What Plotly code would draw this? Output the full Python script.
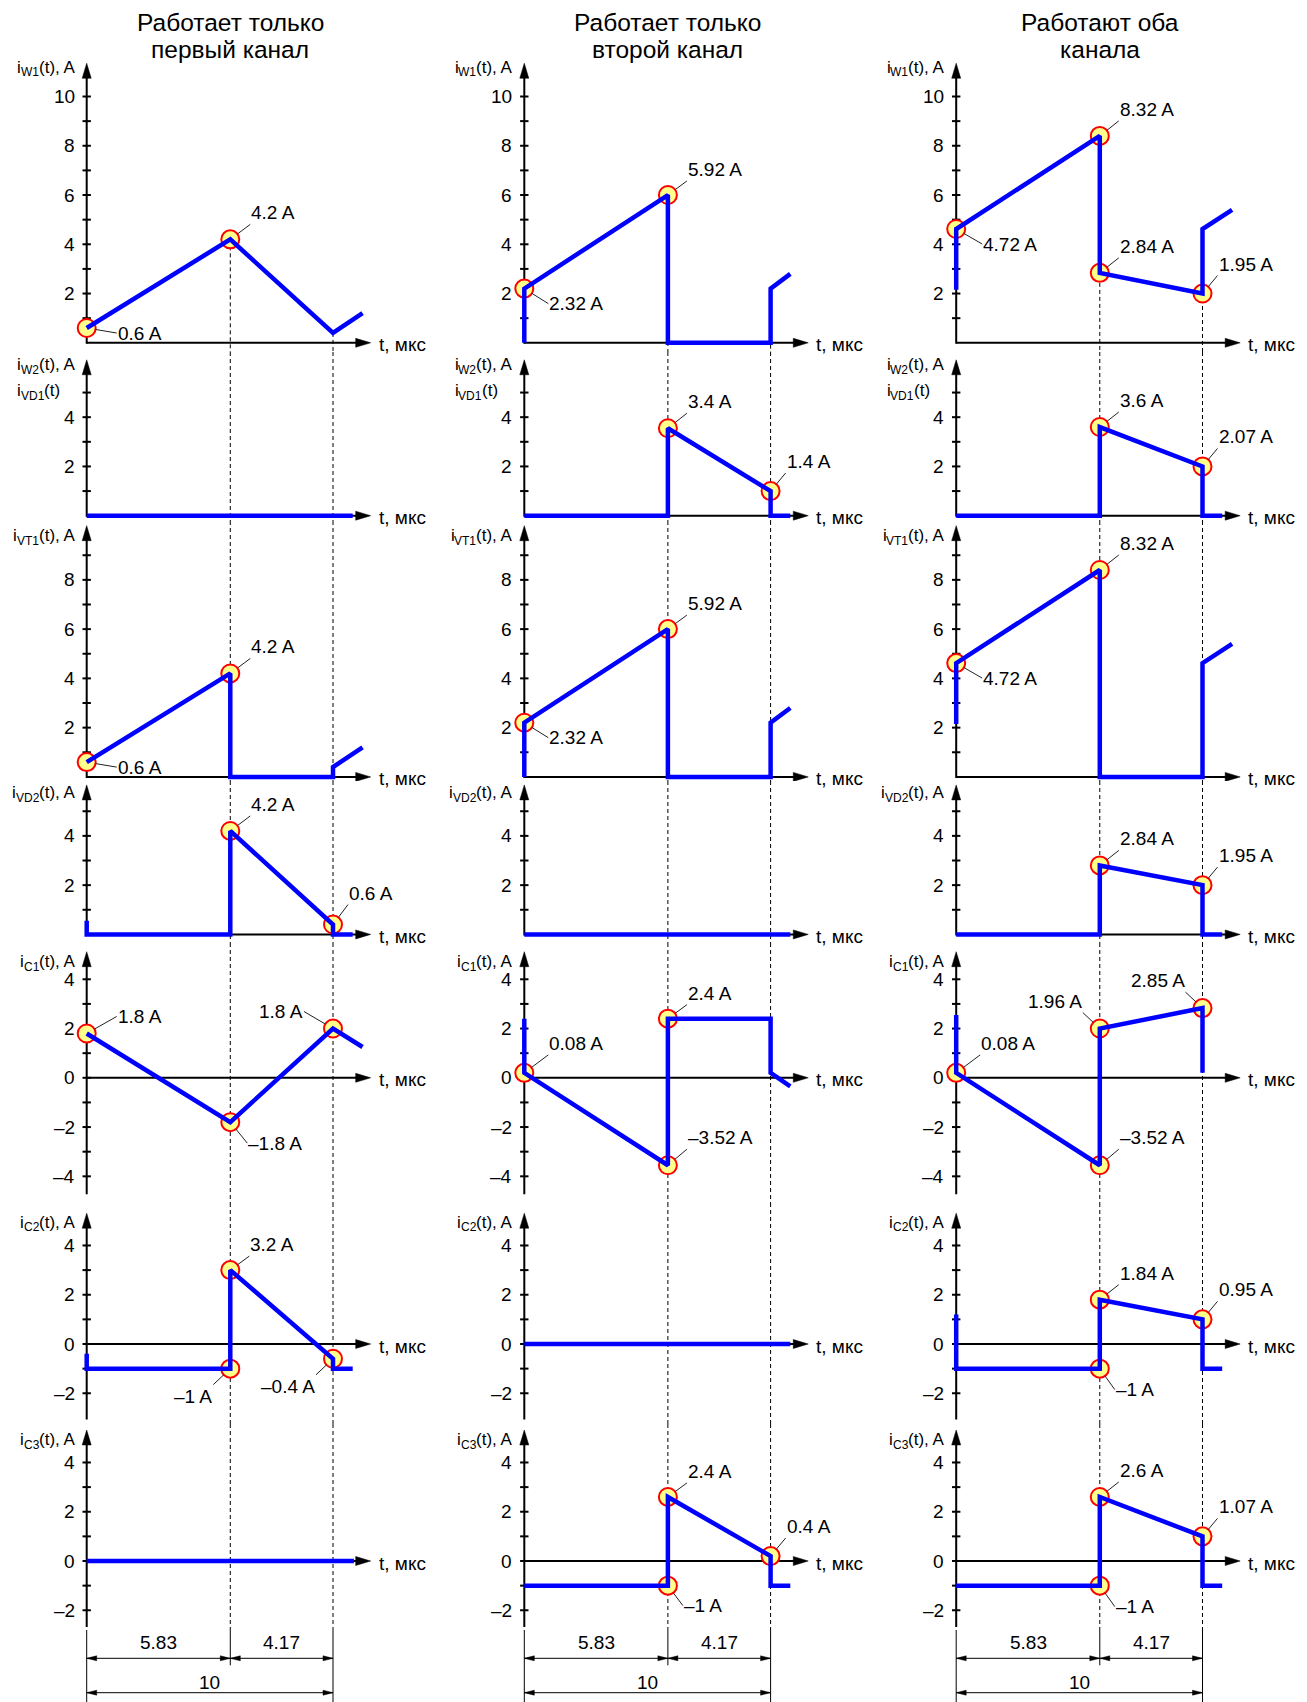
import plotly.graph_objects as go

# ======================= DATA =======================
T_SW = 5.83     # µs, end of the first interval
T_PER = 10.0    # µs, switching period

COLUMN_TITLES = [("Работает только", "первый канал"),
                 ("Работает только", "второй канал"),
                 ("Работают оба", "канала")]

# axis titles as (letter, subscript, rest)
ROW_TITLES = [("i", "W1", "(t), A"), ("i", "W2", "(t), A"), ("i", "VT1", "(t), A"),
              ("i", "VD2", "(t), A"), ("i", "C1", "(t), A"), ("i", "C2", "(t), A"),
              ("i", "C3", "(t), A")]
ROW2_EXTRA_TITLE = ("i", "VD1", "(t)")
TIME_LABEL = "t, мкс"

ROW_MINOR_TICKS = [list(range(1, 11)), list(range(1, 6)), list(range(1, 10)), list(range(1, 6)),
                   list(range(-4, 5)), list(range(-2, 5)), list(range(-2, 5))]
ROW_TICK_LABELS = [[2, 4, 6, 8, 10], [2, 4], [2, 4, 6, 8], [2, 4],
                   [-4, -2, 0, 2, 4], [-2, 0, 2, 4], [-2, 0, 2, 4]]
ROW_AXIS_BOTTOM = [0, 0, 0, 0, -4.69, -3.02, -2.67]
ROW_AXIS_TOP = [11.35, 6.33, 10.2, 6.07, 5.12, 5.31, 5.32]

# ---- column 1: only the first channel works
c1_iw1_t = [0, 5.83, 10, 11.2]
c1_iw1_i = [0.6, 4.2, 0.4, 1.2]
c1_iw1_pts = [(0, 0.6, "0.6 A"), (5.83, 4.2, "4.2 A")]
c1_iw2_t = [0, 10.8]
c1_iw2_i = [0, 0]
c1_iw2_pts = []
c1_ivt1_t = [0, 5.83, 5.83, 10, 10, 11.2]
c1_ivt1_i = [0.6, 4.2, 0, 0, 0.4, 1.2]
c1_ivt1_pts = [(0, 0.6, "0.6 A"), (5.83, 4.2, "4.2 A")]
c1_ivd2_t = [0, 0, 5.83, 5.83, 10, 10, 10.8]
c1_ivd2_i = [0.55, 0, 0, 4.2, 0.4, 0, 0]
c1_ivd2_pts = [(5.83, 4.2, "4.2 A"), (10, 0.4, "0.6 A")]
c1_ic1_t = [0, 5.83, 10, 11.2]
c1_ic1_i = [1.8, -1.8, 2.0, 1.25]
c1_ic1_pts = [(0, 1.8, "1.8 A"), (5.83, -1.8, "–1.8 A"), (10, 2.0, "1.8 A")]
c1_ic2_t = [0, 0, 5.83, 5.83, 10, 10, 10.8]
c1_ic2_i = [-0.4, -1, -1, 3.0, -0.6, -1, -1]
c1_ic2_pts = [(5.83, -1, "–1 A"), (5.83, 3.0, "3.2 A"), (10, -0.6, "–0.4 A")]
c1_ic3_t = [0, 10.85]
c1_ic3_i = [0, 0]
c1_ic3_pts = []

# ---- column 2: only the second channel works
c2_iw1_t = [0, 0, 5.83, 5.83, 10, 10, 10.8]
c2_iw1_i = [0, 2.2, 6.0, 0, 0, 2.2, 2.8]
c2_iw1_pts = [(0, 2.2, "2.32 A"), (5.83, 6.0, "5.92 A")]
c2_iw2_t = [0, 5.83, 5.83, 10, 10, 10.8]
c2_iw2_i = [0, 0, 3.55, 1.0, 0, 0]
c2_iw2_pts = [(5.83, 3.55, "3.4 A"), (10, 1.0, "1.4 A")]
c2_ivt1_t = [0, 0, 5.83, 5.83, 10, 10, 10.8]
c2_ivt1_i = [0, 2.2, 6.0, 0, 0, 2.2, 2.8]
c2_ivt1_pts = [(0, 2.2, "2.32 A"), (5.83, 6.0, "5.92 A")]
c2_ivd2_t = [0, 10.8]
c2_ivd2_i = [0, 0]
c2_ivd2_pts = []
c2_ic1_t = [0, 0, 5.83, 5.83, 10, 10, 10.8]
c2_ic1_i = [2.4, 0.2, -3.55, 2.4, 2.4, 0.2, -0.35]
c2_ic1_pts = [(0, 0.2, "0.08 A"), (5.83, 2.4, "2.4 A"), (5.83, -3.55, "–3.52 A")]
c2_ic2_t = [0, 10.8]
c2_ic2_i = [0, 0]
c2_ic2_pts = []
c2_ic3_t = [0, 5.83, 5.83, 10, 10, 10.8]
c2_ic3_i = [-1, -1, 2.6, 0.2, -1, -1]
c2_ic3_pts = [(5.83, 2.6, "2.4 A"), (10, 0.2, "0.4 A"), (5.83, -1, "–1 A")]

# ---- column 3: both channels work
c3_iw1_t = [0, 0, 5.83, 5.83, 10, 10, 11.2]
c3_iw1_i = [2.15, 4.62, 8.4, 2.84, 2.0, 4.62, 5.4]
c3_iw1_pts = [(0, 4.62, "4.72 A"), (5.83, 8.4, "8.32 A"), (5.83, 2.84, "2.84 A"), (10, 2.0, "1.95 A")]
c3_iw2_t = [0, 5.83, 5.83, 10, 10, 10.8]
c3_iw2_i = [0, 0, 3.6, 2.0, 0, 0]
c3_iw2_pts = [(5.83, 3.6, "3.6 A"), (10, 2.0, "2.07 A")]
c3_ivt1_t = [0, 0, 5.83, 5.83, 10, 10, 11.2]
c3_ivt1_i = [2.15, 4.62, 8.4, 0, 0, 4.62, 5.4]
c3_ivt1_pts = [(0, 4.62, "4.72 A"), (5.83, 8.4, "8.32 A")]
c3_ivd2_t = [0, 5.83, 5.83, 10, 10, 10.8]
c3_ivd2_i = [0, 0, 2.8, 2.0, 0, 0]
c3_ivd2_pts = [(5.83, 2.8, "2.84 A"), (10, 2.0, "1.95 A")]
c3_ic1_t = [0, 0, 5.83, 5.83, 10, 10]
c3_ic1_i = [2.55, 0.2, -3.55, 2.0, 2.83, 0.2]
c3_ic1_pts = [(0, 0.2, "0.08 A"), (5.83, 2.0, "1.96 A"), (10, 2.83, "2.85 A"), (5.83, -3.55, "–3.52 A")]
c3_ic2_t = [0, 0, 5.83, 5.83, 10, 10, 10.8]
c3_ic2_i = [1.2, -1, -1, 1.8, 1.0, -1, -1]
c3_ic2_pts = [(5.83, 1.8, "1.84 A"), (10, 1.0, "0.95 A"), (5.83, -1, "–1 A")]
c3_ic3_t = [0, 5.83, 5.83, 10, 10, 10.8]
c3_ic3_i = [-1, -1, 2.6, 1.0, -1, -1]
c3_ic3_pts = [(5.83, 2.6, "2.6 A"), (10, 1.0, "1.07 A"), (5.83, -1, "–1 A")]

# ======================= LAYOUT / STYLE =======================
W, H = 1307, 1702
OFF = 8                                     # page body margin of the html output
PX = 24.63                                  # pixels per unit on both axes
COL_AXIS_X = [86.7 - OFF, 524.3 - OFF, 956.2 - OFF]
ROW_ZERO_Y = [v - OFF for v in [342.8, 515.7, 776.9, 934.4, 1077.8, 1344.0, 1561.0]]
ROW_EDGES = [max(0, v - OFF) for v in [0, 352, 521, 781, 943, 1203, 1424, 1627, 1702]]
LEFT_PAD, RIGHT_PAD = 6, 300
T_ARROW = 11.53
T_LABEL_SHIFT = 6
AH_LEN, AH_HALF = 15, 4.5                   # axis arrow-head, px
DH_LEN, DH_HALF = 10, 2.5                   # dimension arrow-head, px
TITLE_DY = [4, 5, 10, 8, 10, 9, 10]
DIM_LINE1, DIM_TEXT1, DIM_LINE2, DIM_TEXT2 = 43.7, 59.3, 9.3, 19.3
DIM_EXT_TOP = 75
TITLE_Y = [22.5 - OFF, 49.5 - OFF]

FONT = "Liberation Sans, Arial, sans-serif"
F_SMALL = dict(family=FONT, size=19, color="black")
F_AX = dict(family=FONT, size=17, color="black")
F_SUB = dict(family=FONT, size=12, color="black")
F_TITLE = dict(family=FONT, size=24.5, color="black")
BLUE = "#0000FF"
MARK_FILL = "#FFFF8C"
MARK_EDGE = "#FF0000"

# Arial / Liberation Sans advance widths (per 1000 em) for composing axis titles
ADV = {"i": 222, "W": 944, "V": 667, "D": 722, "C": 722, "T": 611, "1": 556, "2": 556,
       "3": 556, "(": 333, "t": 278, ")": 333, ",": 278, " ": 278, "A": 667}

# label placement: (dx px, dy px, kind)
c1_place = [[(30, 5, "rm"), (20, -15, "ur")], [], [(30, 5, "rm"), (20, -15, "ur")],
            [(20, -15, "ur"), (15, -20, "ur")],
            [(30, -17, "rm"), (17, 21, "rm"), (-29, -17, "lm")],
            [(-17, 16, "ll"), (19, -14, "ur"), (-17, 16, "ll")], []]
c2_place = [[(24, 15, "rm"), (19, -14, "ur")], [(19, -15, "ur"), (15, -18, "ur")],
            [(24, 15, "rm"), (19, -14, "ur")], [],
            [(24, -18, "ur"), (19, -14, "ur"), (19, -16, "ur")], [],
            [(19, -14, "ur"), (15, -18, "ur"), (15, 20, "rm")]]
c3_place = [[(26, 15, "rm"), (19, -15, "ur"), (19, -15, "ur"), (15, -18, "ur")],
            [(19, -15, "ur"), (15, -18, "ur")],
            [(26, 15, "rm"), (19, -15, "ur")],
            [(19, -15, "ur"), (15, -18, "ur")],
            [(24, -18, "ur"), (-17, -16, "ul"), (-17, -16, "ul"), (19, -16, "ur")],
            [(19, -15, "ur"), (15, -18, "ur"), (15, 21, "rm")],
            [(19, -15, "ur"), (15, -18, "ur"), (15, 21, "rm")]]

COLUMNS = [
    [(c1_iw1_t, c1_iw1_i, c1_iw1_pts), (c1_iw2_t, c1_iw2_i, c1_iw2_pts),
     (c1_ivt1_t, c1_ivt1_i, c1_ivt1_pts), (c1_ivd2_t, c1_ivd2_i, c1_ivd2_pts),
     (c1_ic1_t, c1_ic1_i, c1_ic1_pts), (c1_ic2_t, c1_ic2_i, c1_ic2_pts),
     (c1_ic3_t, c1_ic3_i, c1_ic3_pts)],
    [(c2_iw1_t, c2_iw1_i, c2_iw1_pts), (c2_iw2_t, c2_iw2_i, c2_iw2_pts),
     (c2_ivt1_t, c2_ivt1_i, c2_ivt1_pts), (c2_ivd2_t, c2_ivd2_i, c2_ivd2_pts),
     (c2_ic1_t, c2_ic1_i, c2_ic1_pts), (c2_ic2_t, c2_ic2_i, c2_ic2_pts),
     (c2_ic3_t, c2_ic3_i, c2_ic3_pts)],
    [(c3_iw1_t, c3_iw1_i, c3_iw1_pts), (c3_iw2_t, c3_iw2_i, c3_iw2_pts),
     (c3_ivt1_t, c3_ivt1_i, c3_ivt1_pts), (c3_ivd2_t, c3_ivd2_i, c3_ivd2_pts),
     (c3_ic1_t, c3_ic1_i, c3_ic1_pts), (c3_ic2_t, c3_ic2_i, c3_ic2_pts),
     (c3_ic3_t, c3_ic3_i, c3_ic3_pts)],
]
PLACES = [c1_place, c2_place, c3_place]

ANCHORS = {"ur": ("left", "bottom"), "rm": ("left", "middle"), "ul": ("right", "bottom"),
           "lm": ("right", "middle"), "ll": ("right", "top")}


def fmt(v):
    return f"{v:g}".replace("-", "–")


def text_w(s, size):
    return sum(ADV.get(ch, 556) for ch in s) * size / 1000.0


def axis_title(parts, xa, ya, yval, left_px, yshift):
    """Compose letter + subscript + rest as three plain-text annotations."""
    main, sub, rest = parts
    out = []
    x = left_px
    for txt, font, dy in [(main, F_AX, 0), (sub, F_SUB, -5), (rest, F_AX, 0)]:
        out.append(dict(x=0, y=yval, xref=xa, yref=ya, text=txt, showarrow=False,
                        xanchor="left", yanchor="middle", xshift=x, yshift=yshift + dy,
                        font=font, borderpad=0, borderwidth=0))
        x += text_w(txt, font["size"])
    return out


def title_width(parts):
    main, sub, rest = parts
    return text_w(main, F_AX["size"]) + text_w(sub, F_SUB["size"]) + text_w(rest, F_AX["size"])


fig = go.Figure()
layout = dict(width=W, height=H, margin=dict(l=0, r=0, t=0, b=0),
              paper_bgcolor="white", plot_bgcolor="rgba(0,0,0,0)", showlegend=False)
ann = []

for c in range(3):
    X0 = COL_AXIS_X[c]
    xdom = [(X0 - LEFT_PAD) / W, (X0 + RIGHT_PAD) / W]
    xrng = [-LEFT_PAD / PX, RIGHT_PAD / PX]
    for r in range(8):
        n = c * 8 + r + 1
        sfx = "" if n == 1 else str(n)
        xa, ya = "x" + sfx, "y" + sfx
        top, bot = ROW_EDGES[r], ROW_EDGES[r + 1]
        if r < 7:
            z = ROW_ZERO_Y[r]
            yrng = [-(bot - z) / PX, (z - top) / PX]
        else:
            yrng = [0, bot - top]
        layout["xaxis" + sfx] = dict(domain=xdom, range=xrng, visible=False,
                                     fixedrange=True, anchor=ya)
        layout["yaxis" + sfx] = dict(domain=[1 - bot / H, 1 - top / H], range=yrng,
                                     visible=False, fixedrange=True, anchor=xa)
        common = dict(xaxis=xa, yaxis=ya, hoverinfo="skip", showlegend=False)

        if r == 7:
            # ----- dimension block -----
            fig.add_trace(go.Scatter(x=[0, 0, None, T_SW, T_SW, None, T_PER, T_PER],
                                     y=[DIM_EXT_TOP - 3, 0, None, DIM_EXT_TOP, DIM_LINE1 - 7,
                                        None, DIM_EXT_TOP, 0],
                                     mode="lines", line=dict(color="black", width=1), **common))
            fig.add_trace(go.Scatter(x=[0, T_PER, None, 0, T_PER],
                                     y=[DIM_LINE1, DIM_LINE1, None, DIM_LINE2, DIM_LINE2],
                                     mode="lines", line=dict(color="black", width=1), **common))
            hx, hy = [], []
            for tip, yy, d in [(0, DIM_LINE1, 1), (T_SW, DIM_LINE1, -1), (T_SW, DIM_LINE1, 1),
                               (T_PER, DIM_LINE1, -1), (0, DIM_LINE2, 1), (T_PER, DIM_LINE2, -1)]:
                b = tip + d * DH_LEN / PX
                hx += [tip, b, b, tip, None]
                hy += [yy, yy + DH_HALF, yy - DH_HALF, yy, None]
            fig.add_trace(go.Scatter(x=hx, y=hy, mode="lines", fill="toself",
                                     fillcolor="black", line=dict(color="black", width=0.5),
                                     **common))
            for xx, yy, txt in [(T_SW / 2, DIM_TEXT1, f"{T_SW:.2f}"),
                                ((T_SW + T_PER) / 2, DIM_TEXT1, f"{T_PER - T_SW:.2f}"),
                                (T_PER / 2, DIM_TEXT2, f"{T_PER:g}")]:
                ann.append(dict(x=xx, y=yy, xref=xa, yref=ya, text=txt, showarrow=False,
                                xanchor="center", yanchor="middle", font=F_SMALL))
            continue

        ts, vs, pts = COLUMNS[c][r]
        ybot, ytop = ROW_AXIS_BOTTOM[r], ROW_AXIS_TOP[r]

        # dashed guide lines
        for tx in (T_SW, T_PER):
            if r == 0:
                ys = max(v for t, v in zip(ts, vs) if abs(t - tx) < 1e-9)
            else:
                ys = yrng[1]
            fig.add_trace(go.Scatter(x=[tx, tx], y=[ys, yrng[0]], mode="lines",
                                     line=dict(color="black", width=1, dash="4px,3px"), **common))

        # axes
        fig.add_trace(go.Scatter(x=[0, 0, None, 0, T_ARROW - 0.8 * AH_LEN / PX],
                                 y=[ybot - 1 / PX, ytop - 0.8 * AH_LEN / PX, None, 0, 0],
                                 mode="lines", line=dict(color="black", width=2), **common))
        fig.add_trace(go.Scatter(
            x=[0, -AH_HALF / PX, AH_HALF / PX, 0, None,
               T_ARROW, T_ARROW - AH_LEN / PX, T_ARROW - AH_LEN / PX, T_ARROW],
            y=[ytop, ytop - AH_LEN / PX, ytop - AH_LEN / PX, ytop, None,
               0, AH_HALF / PX, -AH_HALF / PX, 0],
            mode="lines", fill="toself", fillcolor="black",
            line=dict(color="black", width=0.5), **common))
        fig.add_trace(go.Scatter(x=[0] * len(ROW_MINOR_TICKS[r]), y=ROW_MINOR_TICKS[r],
                                 mode="markers", cliponaxis=False,
                                 marker=dict(symbol="line-ew", size=6,
                                             line=dict(color="black", width=2)), **common))
        for v in ROW_TICK_LABELS[r]:
            ann.append(dict(x=0, y=v, xref=xa, yref=ya, text=fmt(v), showarrow=False,
                            xanchor="right", yanchor="middle", xshift=-10, font=F_SMALL))
        # axis titles
        parts = ROW_TITLES[r]
        ann += axis_title(parts, xa, ya, ytop, -11 - title_width(parts), -TITLE_DY[r])
        if r == 1:
            ann += axis_title(ROW2_EXTRA_TITLE, xa, ya, ytop, -11 - title_width(parts),
                              -TITLE_DY[r] - 26)
        ann.append(dict(x=T_ARROW, y=0, xref=xa, yref=ya, text=TIME_LABEL, showarrow=False,
                        xanchor="left", yanchor="middle", xshift=T_LABEL_SHIFT, yshift=-2,
                        font=F_SMALL))

        # value markers
        if pts:
            fig.add_trace(go.Scatter(x=[p[0] for p in pts], y=[p[1] for p in pts],
                                     mode="markers", cliponaxis=False,
                                     marker=dict(size=18, color=MARK_FILL,
                                                 line=dict(color=MARK_EDGE, width=2)),
                                     **common))
        # current waveform
        fig.add_trace(go.Scatter(x=ts, y=vs, mode="lines",
                                 line=dict(color=BLUE, width=4.5), **common))

        for (pt, pl) in zip(pts, PLACES[c][r]):
            dx, dy, kind = pl
            xan, yan = ANCHORS[kind]
            ann.append(dict(x=pt[0], y=pt[1], xref=xa, yref=ya, text=pt[2],
                            showarrow=True, arrowhead=0, arrowwidth=1, arrowcolor="#222",
                            ax=dx, ay=dy, standoff=9, xanchor=xan, yanchor=yan,
                            font=F_SMALL, borderpad=0))

    # column title
    xa0 = "x" if c == 0 else f"x{c * 8 + 1}"
    for k, line in enumerate(COLUMN_TITLES[c]):
        ann.append(dict(x=T_SW, y=1 - TITLE_Y[k] / H, xref=xa0, yref="paper", text=line,
                        showarrow=False, xanchor="center", yanchor="middle", font=F_TITLE,
                        borderpad=0, borderwidth=0))

layout["annotations"] = ann
fig.update_layout(**layout)
fig.write_html("out.html")
